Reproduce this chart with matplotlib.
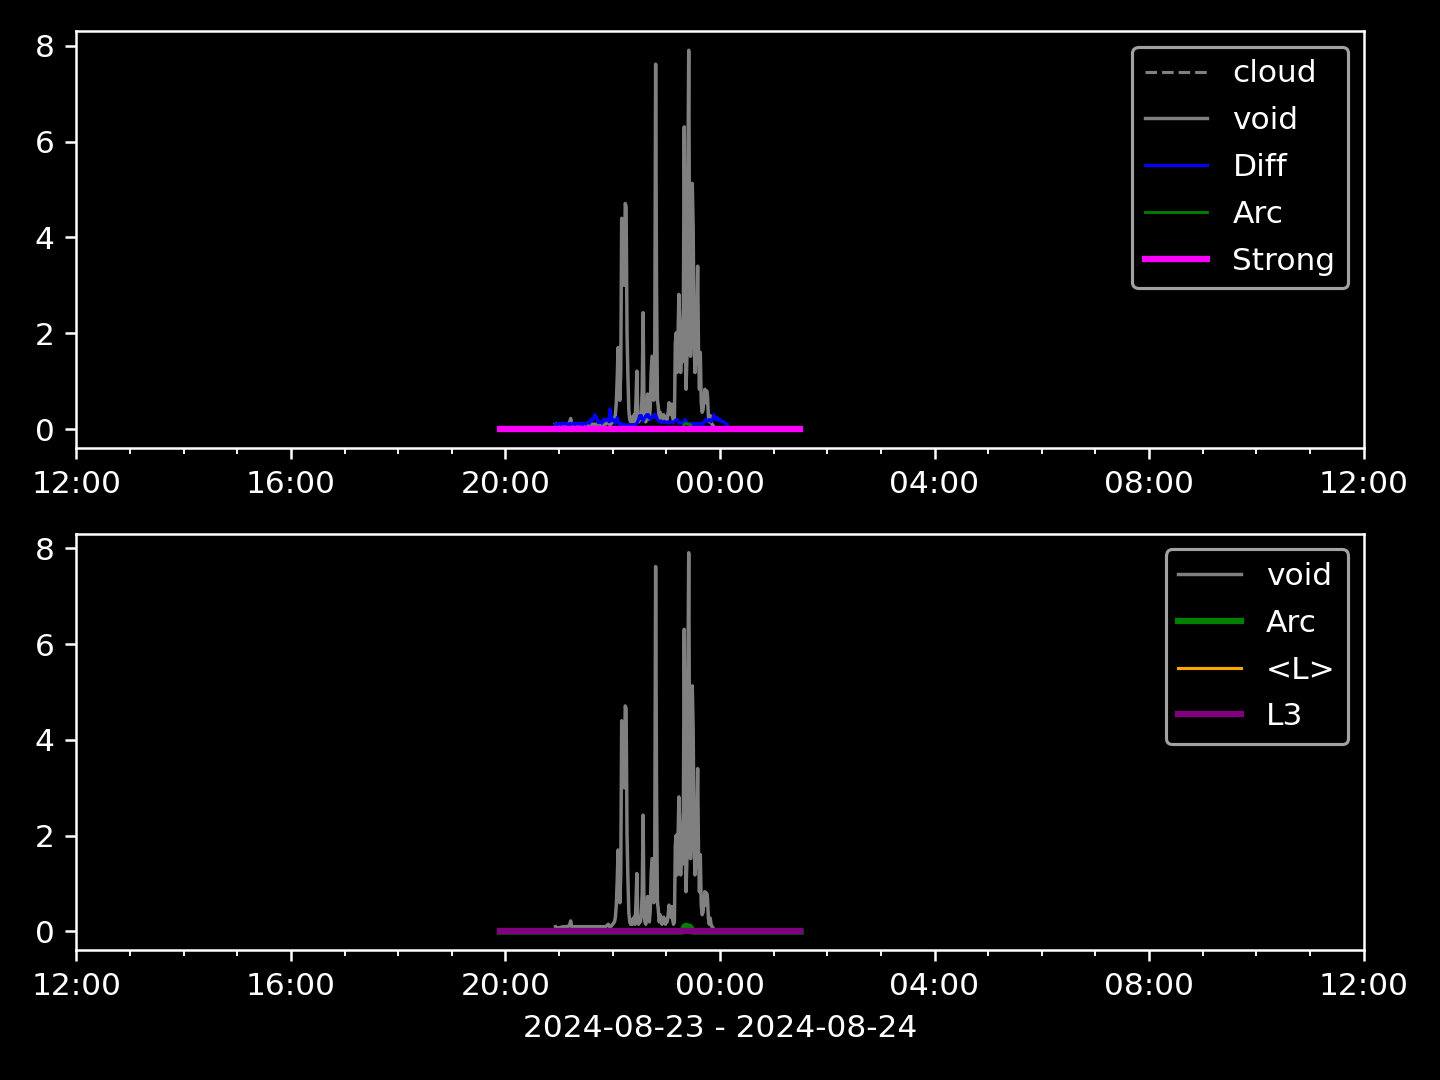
import matplotlib
matplotlib.use("Agg")
import matplotlib.pyplot as plt
import matplotlib.dates as mdates
import numpy as np
import pandas as pd

# ---- data -------------------------------------------------------------
window_times = ["19:54", "20:30", "21:30", "22:30", "23:30", "00:30", "01:30"]
strong_vals = [0, 0, 0, 0, 0, 0, 0]
l3_vals = [0, 0, 0, 0, 0, 0, 0]
cloud_vals = [0, 0, 0, 0, 0, 0, 0]
lmean_vals = [0, 0, 0, 0, 0, 0, 0]

void_times = ["20:56", "20:57", "20:58", "21:00", "21:05", "21:10", "21:12", "21:13", "21:14",
              "21:18", "21:25", "21:35", "21:45", "21:52", "21:55", "21:57", "22:00", "22:02",
              "22:03", "22:04", "22:05", "22:06", "22:07", "22:08", "22:09", "22:10", "22:11",
              "22:12", "22:13", "22:14", "22:15", "22:16", "22:17", "22:18", "22:19", "22:20",
              "22:21", "22:22", "22:23", "22:24", "22:25", "22:26", "22:27", "22:28", "22:29",
              "22:30", "22:31", "22:32", "22:33", "22:34", "22:35", "22:36", "22:37", "22:38",
              "22:39", "22:40", "22:41", "22:42", "22:43", "22:44", "22:45", "22:46", "22:47",
              "22:48", "22:49", "22:50", "22:51", "22:52", "22:53", "22:54", "22:55", "22:56",
              "22:57", "22:58", "22:59", "23:00", "23:01", "23:02", "23:03", "23:04", "23:05",
              "23:06", "23:07", "23:08", "23:09", "23:10", "23:11", "23:12", "23:13", "23:14",
              "23:15", "23:16", "23:17", "23:18", "23:19", "23:20", "23:21", "23:22", "23:23",
              "23:24", "23:25", "23:26", "23:27", "23:28", "23:29", "23:30", "23:31", "23:32",
              "23:33", "23:34", "23:35", "23:36", "23:37", "23:38", "23:39", "23:40", "23:41",
              "23:42", "23:43", "23:44", "23:45", "23:46", "23:47", "23:48", "23:49", "23:50",
              "23:51", "23:52", "23:53"]
void_vals = [0.10, 0.05, np.nan, 0.08, 0.10, 0.10, 0.15, 0.22, 0.10,
             0.10, 0.10, 0.10, 0.10, 0.10, 0.15, 0.08, 0.15, 0.20,
             0.30, 0.55, 1.05, 1.70, 1.00, 0.60, 1.20, 4.40, 4.38,
             4.20, 3.00, 4.71, 4.65, 2.00, 1.10, 0.40, 0.20, 0.15,
             0.25, 0.15, 0.20, 0.30, 0.15, 0.60, 1.21, 0.30, 0.15,
             0.25, 0.20, 0.35, 0.80, 2.43, 0.40, 0.20, 0.15, 0.35,
             0.73, 0.30, 0.20, 0.45, 1.20, 1.52, 1.50, 0.60, 1.60,
             7.62, 3.00, 0.62, 0.45, 0.20, 0.35, 0.28, 0.15, 0.20,
             0.30, 0.20, 0.15, 0.25, 0.20, 0.35, 0.55, 0.40, 0.30,
             0.52, 0.25, 0.15, 0.20, 1.80, 2.01, 1.18, 1.90, 2.81,
             2.20, 1.18, 1.87, 1.40, 2.50, 6.31, 3.00, 0.83, 1.50,
             5.00, 7.91, 3.50, 1.52, 2.50, 5.13, 4.20, 1.80, 1.18,
             1.50, 2.20, 3.40, 1.60, 0.83, 1.60, 0.55, 0.35, 0.40,
             0.60, 0.83, 0.55, 0.80, 0.70, 0.28, 0.15, 0.28, 0.15,
             0.10, 0.08, 0.05]

diff_times = ["20:56", "20:58", "21:00", "21:02", "21:04", "21:06", "21:08", "21:10", "21:12",
              "21:14", "21:16", "21:18", "21:20", "21:22", "21:24", "21:26", "21:28", "21:30",
              "21:32", "21:34", "21:36", "21:38", "21:40", "21:42", "21:44", "21:46", "21:48",
              "21:50", "21:52", "21:54", "21:56", "21:57", "21:59", "22:01", "22:03", "22:05",
              "22:07", "22:09", "22:11", "22:13", "22:15", "22:17", "22:19", "22:21", "22:23",
              "22:25", "22:27", "22:29", "22:30", "22:31", "22:32", "22:34", "22:36", "22:38",
              "22:39", "22:40", "22:42", "22:44", "22:46", "22:47", "22:48", "22:50", "22:52",
              "22:54", "22:56", "22:58", "23:00", "23:02", "23:04", "23:06", "23:08", "23:10",
              "23:12", "23:14", "23:16", "23:18", "23:20", "23:21", "23:23", "23:25", "23:27",
              "23:29", "23:31", "23:33", "23:35", "23:37", "23:39", "23:41", "23:42", "23:44",
              "23:46", "23:48", "23:50", "23:52", "23:53", "23:55", "23:57", "23:58", "00:00",
              "00:02", "00:04", "00:06", "00:08"]
diff_vals = [0.10, 0.08, 0.12, 0.09, 0.12, 0.10, 0.12, 0.09, 0.12,
             0.10, 0.12, 0.09, 0.12, 0.10, 0.12, 0.09, 0.12, 0.10,
             0.14, 0.12, 0.21, 0.18, 0.30, 0.24, 0.13, 0.15, 0.12,
             0.21, 0.18, 0.21, 0.15, 0.42, 0.17, 0.20, 0.12, 0.24,
             0.10, 0.12, 0.08, 0.10, 0.07, 0.09, 0.07, 0.09, 0.07,
             0.09, 0.12, 0.20, 0.28, 0.22, 0.28, 0.17, 0.24, 0.30,
             0.25, 0.30, 0.20, 0.24, 0.30, 0.24, 0.30, 0.20, 0.15,
             0.17, 0.14, 0.16, 0.13, 0.15, 0.13, 0.15, 0.14, 0.18,
             0.20, 0.12, 0.14, 0.12, 0.16, 0.20, 0.12, 0.10, 0.12,
             0.10, 0.12, 0.10, 0.12, 0.10, 0.12, 0.10, 0.14, 0.20,
             0.16, 0.20, 0.15, 0.22, 0.30, 0.20, 0.24, 0.18, 0.20,
             0.15, 0.16, 0.12, 0.10]

arc_times = ["19:54", "23:18", "23:20", "23:22", "23:24", "23:26", "23:28", "23:29", "01:30"]
arc_vals = [0, 0, 0.10, 0.12, 0.10, 0.10, 0.06, 0, 0]

xlabel_text = "2024-08-23 - 2024-08-24"


def to_dt(times):
    out = []
    for t in times:
        day = "2024-08-23" if int(t[:2]) >= 12 else "2024-08-24"
        out.append(pd.Timestamp(f"{day} {t}"))
    return out


plt.style.use("dark_background")
fig, (ax1, ax2) = plt.subplots(2, 1, figsize=(6.4, 4.8), dpi=225)
fig.subplots_adjust(left=0.053, right=0.947, top=0.971, bottom=0.12, hspace=0.206)

wt = to_dt(window_times)

# top panel
ax1.plot(wt, cloud_vals, color="gray", linestyle="--", lw=1, label="cloud")
ax1.plot(to_dt(void_times), void_vals, color="gray", lw=1.1, label="void")
ax1.plot(to_dt(diff_times), diff_vals, color="blue", lw=1.0, label="Diff")
ax1.plot(to_dt(arc_times), arc_vals, color="green", lw=0.9, label="Arc")
ax1.plot(wt, strong_vals, color="magenta", lw=2, label="Strong")
ax1.legend(loc="upper right", labelspacing=0.57)

# bottom panel
ax2.plot(to_dt(void_times), void_vals, color="gray", lw=1.1, label="void")
ax2.plot(to_dt(arc_times), arc_vals, color="green", lw=2, label="Arc")
ax2.plot(wt, lmean_vals, color="orange", lw=1, label="<L>")
ax2.plot(wt, l3_vals, color="purple", lw=2, label="L3")
ax2.legend(loc="upper right", labelspacing=0.57)
ax2.set_xlabel(xlabel_text)

for ax in (ax1, ax2):
    ax.set_xlim(pd.Timestamp("2024-08-23 12:00"), pd.Timestamp("2024-08-24 12:00"))
    ax.xaxis.set_major_locator(mdates.HourLocator(byhour=range(0, 24, 4)))
    ax.xaxis.set_minor_locator(mdates.HourLocator())
    ax.xaxis.set_major_formatter(mdates.DateFormatter("%H:%M"))
    ax.set_yticks([0, 2, 4, 6, 8])

fig.savefig("out.png", dpi=225)
